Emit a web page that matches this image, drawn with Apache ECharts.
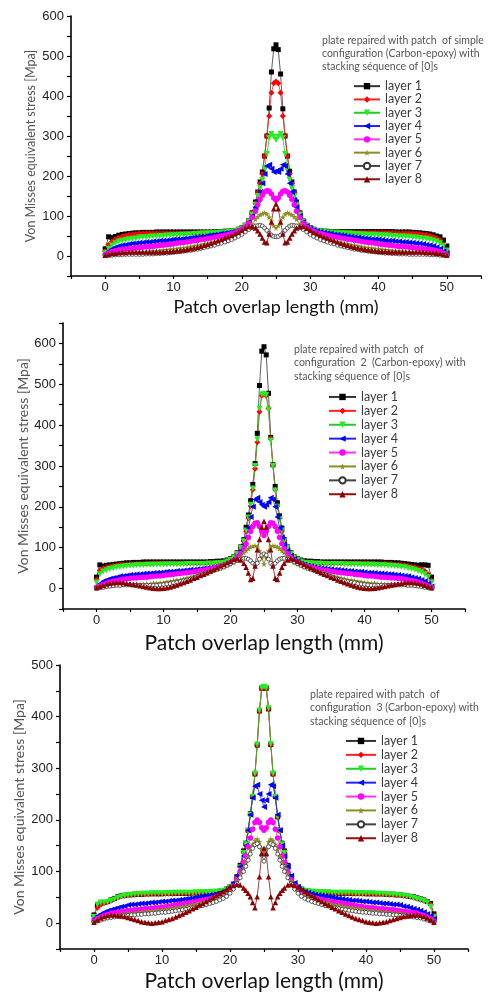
<!DOCTYPE html>
<html><head><meta charset="utf-8">
<script src="https://cdn.jsdelivr.net/npm/echarts@6/dist/echarts.min.js"></script>
<style>html,body{margin:0;padding:0;background:#fff}#c{width:497px;height:999px}</style>
</head><body><div id="c"></div>
<script>
// x positions (mm) along the patch overlap
const xs = [0,0.5,1,1.5,2,2.5,3,3.5,4,4.5,5,
 5.5,6,6.5,7,7.5,8,8.5,9,9.5,10,10.5,
 11,11.5,12,12.5,13,13.5,14,14.5,15,15.5,16,
 16.5,17,17.5,18,18.5,19,19.5,20,20.5,21,21.5,
 22,22.33,22.67,23,23.33,23.67,24,24.33,24.67,25,25.33,25.67,26,26.33,26.67,27,27.33,27.67,28,
 28.5,29,29.5,30,30.5,31,31.5,32,32.5,33,33.5,
 34,34.5,35,35.5,36,36.5,37,37.5,38,38.5,39,
 39.5,40,40.5,41,41.5,42,42.5,43,43.5,44,44.5,
 45,45.5,46,46.5,47,47.5,48,48.5,49,49.5,50];

const layerNames = ['layer 1','layer 2','layer 3','layer 4','layer 5','layer 6','layer 7','layer 8'];
const xTicks = [0,10,20,30,40,50];

// ---- Chart 1: simple configuration ----
const c1_l1 = [18,48,46,49,52,54,55,56,57,58,58, 59,59,59,59,60,60,60,60,60,60,60, 60,60,60,60,60,60,60,60,60,60,61, 61,61,62,62,63,64,67,71,77,88,108,
 135,160,185,210,250,300,370,460,518,528,516,455,368,300,250,212,185,160,135,
 108,88,77,71,67,64,63,62,62,61,61, 61,61,61,61,61,61,61,61,61,61,61, 61,61,61,61,61,61,60,60,60,60,60, 59,59,58,57,56,55,53,50,48,40,25];
const c1_l2 = [12,28,36,42,46,49,51,53,54,55,56, 56,57,57,57,57,57,57,57,57,57,57, 57,57,57,57,58,58,58,58,58,58,58, 59,59,60,61,62,63,66,70,76,87,106,
 132,158,182,205,250,300,350,408,432,436,432,408,350,300,250,205,182,158,132,
 106,87,76,70,66,63,62,61,60,59,59, 59,59,59,59,59,59,59,59,59,58,58, 58,58,58,58,58,58,57,57,57,57,57, 56,56,55,54,53,51,48,45,40,30,14];
const c1_l3 = [8,18,26,32,36,38,40,42,43,44,46, 47,47,48,49,49,50,50,51,51,52,52, 53,53,54,54,55,55,56,56,57,57,58, 58,59,59,60,61,62,65,69,75,86,104,
 128,150,170,190,220,255,295,305,298,290,298,305,295,255,220,190,170,150,128,
 104,86,75,69,65,62,61,60,59,59,58, 58,57,57,56,56,55,55,54,54,53,53, 53,52,52,51,51,50,50,49,49,48,48, 47,46,45,44,43,41,39,36,32,25,14];
const c1_l4 = [5,12,18,22,25,27,28,30,31,32,33, 34,35,35,36,37,38,38,39,40,41,42, 42,43,44,45,46,47,48,49,51,52,53, 54,56,57,58,60,62,65,69,75,85,100,
 122,140,160,182,205,225,228,218,210,212,210,218,228,225,205,182,160,140,122,
 100,85,75,69,65,62,60,58,57,56,54, 53,52,51,49,48,47,46,45,44,43,42, 42,41,40,39,38,38,37,36,35,35,34, 33,32,31,30,28,27,25,22,18,12,6];
const c1_l5 = [3,7,11,13,15,16,17,18,19,20,21, 22,23,23,24,25,26,27,28,29,30,32, 33,34,35,36,38,39,41,42,44,45,47, 48,50,52,54,56,58,62,66,72,82,96,
 112,128,142,152,160,163,162,155,145,140,145,155,162,163,160,152,142,128,112,
 96,82,72,66,62,58,56,54,52,50,48, 47,45,44,42,41,39,38,36,35,34,33, 32,30,29,28,27,26,25,24,23,23,22, 21,20,19,18,17,16,15,13,11,7,3];
const c1_l6 = [2,3,4,5,6,7,8,8,9,9,10, 10,11,12,12,13,14,15,16,17,18,19, 20,21,22,24,25,27,28,30,32,34,36, 38,40,42,45,47,50,54,58,63,70,80,
 92,98,103,106,108,105,97,87,76,70,76,87,97,105,108,106,103,98,92,
 80,70,63,58,54,50,47,45,42,40,38, 36,34,32,30,28,27,25,24,22,21,20, 19,18,17,16,15,14,13,12,12,11,10, 10,9,9,8,8,7,6,5,4,3,2];
const c1_l7 = [1,2,2,3,3,3,4,4,4,4,4, 4,5,5,5,6,6,7,7,8,9,10, 11,12,13,14,16,17,19,21,23,25,27, 30,32,35,38,41,45,49,54,60,66,71,
 75,76,77,75,70,64,57,52,49,48,49,52,57,64,70,75,77,76,75,
 71,66,60,54,49,45,41,38,35,32,30, 27,25,23,21,19,17,16,14,13,12,11, 10,9,8,7,7,6,6,5,5,5,4, 4,4,4,4,4,3,3,3,2,2,1];
const c1_l8 = [2,4,6,7,8,9,9,10,10,10,10, 10,10,10,10,10,10,10,11,11,12,13, 14,15,17,18,20,22,24,27,29,32,35, 38,41,45,48,52,56,60,65,70,74,74,
 70,63,55,45,35,33,55,85,118,130,118,85,55,33,35,45,55,63,70,
 74,74,70,65,60,56,52,48,45,41,38, 35,32,29,27,24,22,20,18,17,15,14, 13,12,11,11,10,10,10,10,10,10,10, 10,10,10,10,9,9,8,7,6,4,2];

// ---- Chart 2: configuration 2 ----
const c2_l1 = [28,58,55,57,58,59,60,61,62,63,63, 64,64,64,65,65,65,65,65,65,65,65, 65,65,65,65,65,65,65,65,65,65,65, 65,66,66,67,67,68,70,73,78,88,102,
 120,150,180,215,255,306,380,497,581,592,572,478,370,303,250,210,178,148,120,
 102,88,78,73,70,68,67,67,66,66,65, 65,65,65,65,65,65,65,65,65,65,65, 65,65,65,65,65,65,65,64,64,64,63, 63,62,61,60,59,58,57,58,58,57,28];
const c2_l2 = [22,45,50,52,54,56,57,58,59,59,60, 60,61,61,61,61,61,62,62,62,62,62, 62,62,62,62,62,62,62,62,62,62,62, 63,63,63,64,64,65,67,71,77,86,100,
 118,140,172,202,242,293,358,433,472,478,472,441,368,302,242,202,172,140,118,
 100,86,77,71,67,65,64,64,63,63,63, 62,62,62,62,62,62,62,62,62,62,62, 62,62,62,61,61,61,61,61,60,60,59, 59,58,57,56,54,52,50,47,43,35,20];
const c2_l3 = [15,35,42,45,48,50,52,53,54,55,56, 56,57,57,57,58,58,58,58,58,59,59, 59,59,59,59,59,60,60,60,60,60,60, 61,61,61,62,62,63,66,70,76,85,99,
 116,142,174,205,245,300,365,440,475,476,474,438,362,300,240,200,170,142,116,
 99,85,76,70,66,63,62,62,61,61,61, 60,60,60,60,60,60,59,59,59,59,59, 58,58,58,58,58,57,57,57,56,56,55, 54,53,52,50,48,46,43,40,35,28,15];
const c2_l4 = [5,12,18,21,24,26,28,30,31,32,33, 34,35,35,36,37,37,38,39,39,40,41, 41,42,43,43,44,45,46,46,47,48,49, 50,51,52,54,56,58,61,66,72,80,92,
 108,125,148,175,200,218,222,212,205,200,205,212,222,218,200,175,148,125,108,
 92,80,72,66,61,58,56,54,52,51,50, 49,48,47,46,46,45,44,43,43,42,41, 41,40,39,39,38,37,37,36,35,35,34, 33,32,31,30,28,26,24,21,18,12,5];
const c2_l5 = [3,6,10,13,16,18,20,21,23,24,25, 26,26,27,28,28,29,30,31,31,32,33, 34,35,36,37,38,39,40,41,42,44,45, 46,48,50,52,54,57,60,64,69,76,86,
 98,110,125,140,152,160,161,152,140,130,140,152,161,160,152,140,125,110,98,
 86,76,69,64,60,57,54,52,50,48,46, 45,44,42,41,40,39,38,37,36,35,34, 33,32,31,31,30,29,28,28,27,26,26, 25,24,23,21,20,18,16,13,10,6,3];
const c2_l6 = [2,3,5,6,7,8,9,9,10,10,10, 10,11,11,11,12,12,13,13,14,15,17, 18,19,21,22,24,26,28,30,33,35,38, 40,43,45,48,50,53,56,60,64,70,78,
 88,93,98,102,104,105,103,92,75,60,75,92,103,105,104,102,98,93,88,
 78,70,64,60,56,53,50,48,45,43,40, 38,35,33,30,28,26,24,22,21,19,18, 17,15,14,13,13,12,12,11,11,11,10, 10,10,10,9,9,8,7,6,5,3,2];
const c2_l7 = [1,2,3,5,6,7,8,8,9,9,9, 9,9,8,8,8,8,8,8,9,10,11, 12,14,15,17,19,21,23,26,29,32,35, 38,41,44,47,50,53,57,61,65,69,72,
 74,74,72,68,62,58,62,72,82,85,82,72,62,58,62,68,72,74,74,
 72,69,65,61,57,53,50,47,44,41,38, 35,32,29,26,23,21,19,17,15,14,12, 11,10,9,8,8,8,8,8,8,9,9, 9,9,9,8,8,7,6,5,3,2,1];
const c2_l8 = [2,5,8,11,13,14,15,15,14,13,12, 10,9,7,5,4,2,1,0,0,1,2, 4,6,9,12,15,18,21,25,28,32,35, 39,43,47,51,55,59,63,67,71,73,70,
 62,52,38,22,25,55,95,120,150,165,150,120,95,55,25,22,38,52,62,
 70,73,71,67,63,59,55,51,47,43,39, 35,32,28,25,21,18,15,12,9,6,4, 2,1,0,0,1,2,4,5,7,9,10, 12,13,14,15,15,14,13,11,8,5,2];

// ---- Chart 3: configuration 3 ----
const c3_l1 = [16,34,38,40,42,45,48,51,53,54,55, 55,56,56,56,57,57,57,57,57,57,58, 58,58,58,58,58,58,58,59,59,59,59, 60,60,61,61,62,63,66,70,76,90,112,
 140,155,180,212,245,289,345,411,455,458,455,415,346,289,245,206,180,155,140,
 112,90,76,70,66,63,62,61,61,60,60, 59,59,59,59,58,58,58,58,58,58,58, 58,57,57,57,57,57,57,56,56,56,55, 55,54,53,52,51,49,47,45,42,38,18];
const c3_l2 = [14,30,36,39,41,44,47,50,52,53,54, 55,55,56,56,56,56,57,57,57,57,57, 57,57,58,58,58,58,58,58,58,59,59, 59,60,60,61,62,63,66,70,76,89,110,
 138,154,178,210,245,289,345,411,455,457,455,415,346,289,245,206,178,154,138,
 110,89,76,70,66,63,62,61,60,60,59, 59,59,58,58,58,58,58,58,57,57,57, 57,57,57,57,56,56,56,56,55,55,54, 54,53,52,51,50,48,46,44,42,36,15];
const c3_l3 = [12,36,40,40,41,43,46,49,51,53,54, 55,56,56,57,57,57,58,58,58,58,58, 58,59,59,59,59,59,59,59,60,60,60, 60,60,61,61,62,63,65,69,75,88,108,
 136,153,178,210,245,290,346,412,456,458,456,416,347,290,245,206,178,153,136,
 108,88,75,69,65,63,62,61,61,60,60, 60,60,59,59,59,59,59,59,59,58,58, 58,58,58,58,57,57,57,56,56,55,55, 54,53,52,51,49,47,45,43,40,32,12];
const c3_l4 = [8,14,18,21,24,26,28,30,32,33,35, 36,36,37,38,38,39,40,40,41,42,42, 43,44,44,45,46,47,48,49,50,51,52, 53,54,55,57,59,61,64,70,78,92,110,
 130,150,180,210,243,265,268,250,238,225,238,250,268,265,243,210,180,150,130,
 110,92,78,70,64,61,59,57,55,54,53, 52,51,50,49,48,47,46,45,44,44,43, 42,42,41,40,40,39,38,38,37,36,36, 35,33,32,30,28,26,24,21,18,14,8];
const c3_l5 = [4,9,12,15,17,19,20,21,22,23,24, 25,26,26,27,28,28,29,30,30,31,32, 33,34,35,36,37,38,39,40,42,43,44, 46,47,49,51,53,56,59,64,72,84,100,
 118,130,148,165,182,195,200,195,185,180,185,195,200,195,182,165,148,130,118,
 100,84,72,64,59,56,53,51,49,47,46, 44,43,42,40,39,38,37,36,35,34,33, 32,31,30,30,29,28,28,27,26,26,25, 24,23,22,21,20,19,17,15,12,9,4];
const c3_l6 = [3,6,9,11,13,14,15,16,17,18,19, 20,20,21,22,22,23,24,24,25,26,27, 28,29,30,31,32,33,35,36,37,39,40, 42,44,46,48,50,53,56,62,70,82,96,
 108,118,130,142,153,160,163,158,145,138,145,158,163,160,153,142,130,118,108,
 96,82,70,62,56,53,50,48,46,44,42, 40,39,37,36,35,33,32,31,30,29,28, 27,26,25,24,24,23,22,22,21,20,20, 19,18,17,16,15,14,13,11,9,6,3];
const c3_l7 = [2,4,6,8,10,11,12,13,14,15,15, 16,16,17,17,18,18,19,19,20,21,21, 22,23,24,25,26,27,28,30,31,33,34, 36,38,40,42,45,48,52,58,66,77,88,
 100,110,122,134,145,152,154,148,132,120,132,148,154,152,145,134,122,110,100,
 88,77,66,58,52,48,45,42,40,38,36, 34,33,31,30,28,27,26,25,24,23,22, 21,21,20,19,19,18,18,17,17,16,16, 15,15,14,13,12,11,10,8,6,4,2];
const c3_l8 = [2,6,10,13,15,16,16,15,14,13,11, 9,7,5,3,2,1,0,1,2,3,5, 7,9,12,15,18,21,24,28,31,35,38, 42,46,50,54,58,62,66,70,73,75,74,
 68,64,58,51,40,30,51,90,135,145,135,90,51,30,40,51,58,64,68,
 74,75,73,70,66,62,58,54,50,46,42, 38,35,31,28,24,21,18,15,12,9,7, 5,3,2,1,0,1,2,3,5,7,9, 11,13,14,15,16,16,15,13,10,6,2];

const panelTexts = [
  'plate repaired with patch  of simple\nconfiguration (Carbon-epoxy) with\nstacking séquence of [0]s',
  'plate repaired with patch  of\nconfiguration  2  (Carbon-epoxy) with\nstacking séquence of [0]s',
  'plate repaired with patch  of\nconfiguration  3 (Carbon-epoxy) with\nstacking séquence of [0]s'
];
const xTitle = 'Patch overlap length (mm)';
const yTitle = 'Von Misses equivalent stress [Mpa]';

const panelData = [
  [c1_l1,c1_l2,c1_l3,c1_l4,c1_l5,c1_l6,c1_l7,c1_l8],
  [c2_l1,c2_l2,c2_l3,c2_l4,c2_l5,c2_l6,c2_l7,c2_l8],
  [c3_l1,c3_l2,c3_l3,c3_l4,c3_l5,c3_l6,c3_l7,c3_l8]
];

// ---------- styling / layout ----------
const layout = [
  {grid:{left:71,top:16,width:410,height:260}, yMax:600, xGap:22, xFont:18, yGap:34, yFont:12.5, legend:{left:353,top:79.5,gap:13.3,w:26}, text:{left:322,top:34.5,lh:12.7}},
  {grid:{left:63,top:323,width:402,height:286}, yMax:650, xGap:24, xFont:21, yGap:33, yFont:14, legend:{left:328,top:390,gap:13.9,w:27}, text:{left:294,top:342.5,lh:13.5}},
  {grid:{left:60,top:665,width:408,height:284}, yMax:500, xGap:22, xFont:21, yGap:34, yFont:14, legend:{left:345,top:734,gap:13.9,w:30}, text:{left:310,top:687.5,lh:13.5}}
];
const markColors = ['#000000','#ff0000','#22ee22','#0000ff','#ff00ff','#8d8d22','#ffffff','#8b0000'];
const lineColors = ['#333333','#ff2020','#22cc22','#2020ff','#ff30ff','#8d8d22','#444444','#8b1010'];
const borderColors = [null,null,null,null,null,null,'#333333',null];
const star = 'path://M50,0L61,35L98,35L68,57L79,91L50,70L21,91L32,57L2,35L39,35Z';
const symbols = ['rect','diamond','path://M0,0L10,0L5,9Z','path://M10,0L10,10L1,5Z','circle',star,'circle','triangle'];
const symSizes = [5,6,6,6,5.5,6,4,5.5];

const grids=[], xAxes=[], yAxes=[], series=[], legends=[], graphics=[];
layout.forEach((L,p)=>{
  grids.push(L.grid);
  xAxes.push({type:'value', gridIndex:p, min:-5, max:55, interval:5,
    axisLine:{show:true, onZero:false, lineStyle:{color:'#000', width:1.6}},
    axisTick:{show:true, inside:false, length:3, lineStyle:{color:'#000', width:1.2}},
    axisLabel:{margin:5, color:'#222', fontSize:13, fontFamily:'Liberation Sans, Arial',
      formatter:v=> xTicks.indexOf(v)>=0 ? String(v) : ''},
    splitLine:{show:false},
    name:xTitle, nameLocation:'middle', nameGap:L.xGap, nameMoveOverlap:false,
    nameTextStyle:{fontSize:L.xFont, fontFamily:'Lato', color:'#111'}
  });
  yAxes.push({type:'value', gridIndex:p, min:-50, max:L.yMax, interval:50,
    axisLine:{show:true, onZero:false, lineStyle:{color:'#000', width:1.6}},
    axisTick:{show:true, inside:false, length:4, lineStyle:{color:'#000', width:1.2}},
    axisLabel:{margin:7, color:'#222', fontSize:13, fontFamily:'Liberation Sans, Arial',
      formatter:v=> (v>=0 && v%100===0) ? String(v) : ''},
    splitLine:{show:false},
    name:yTitle, nameLocation:'middle', nameGap:L.yGap, nameRotate:90, nameMoveOverlap:false,
    nameTextStyle:{fontSize:L.yFont, fontFamily:'Lato', color:'#555'}
  });
  panelData[p].forEach((arr,k)=>{
    series.push({type:'line', name:layerNames[k], xAxisIndex:p, yAxisIndex:p,
      data: xs.map((x,i)=>[x, arr[i]]),
      symbol:symbols[k], symbolSize:symSizes[k], showSymbol:true, showAllSymbol:true,
      lineStyle:{width:0.8, color:lineColors[k]},
      itemStyle:{color:markColors[k], borderColor:borderColors[k]||markColors[k], borderWidth: k===6?0.8:0},
      emphasis:{disabled:true}, animation:false, clip:true
    });
  });
  legends.push({orient:'vertical', left:L.legend.left, top:L.legend.top, padding:0,
    itemWidth:L.legend.w, itemHeight:8, itemGap:0, selectedMode:false,
    textStyle:{fontSize:12.5, fontFamily:'Lato', color:'#3a3a3a', lineHeight:L.legend.gap},
    data:layerNames});
  graphics.push({type:'text', left:L.text.left, top:L.text.top,
    style:{text:panelTexts[p], font:'10.5px Lato', fill:'#555', lineHeight:L.text.lh}});
});

const chart = echarts.init(document.getElementById('c'));
chart.setOption({animation:false, backgroundColor:'#fff',
  grid:grids, xAxis:xAxes, yAxis:yAxes, series:series, legend:legends, graphic:graphics});
</script>
</body></html>
